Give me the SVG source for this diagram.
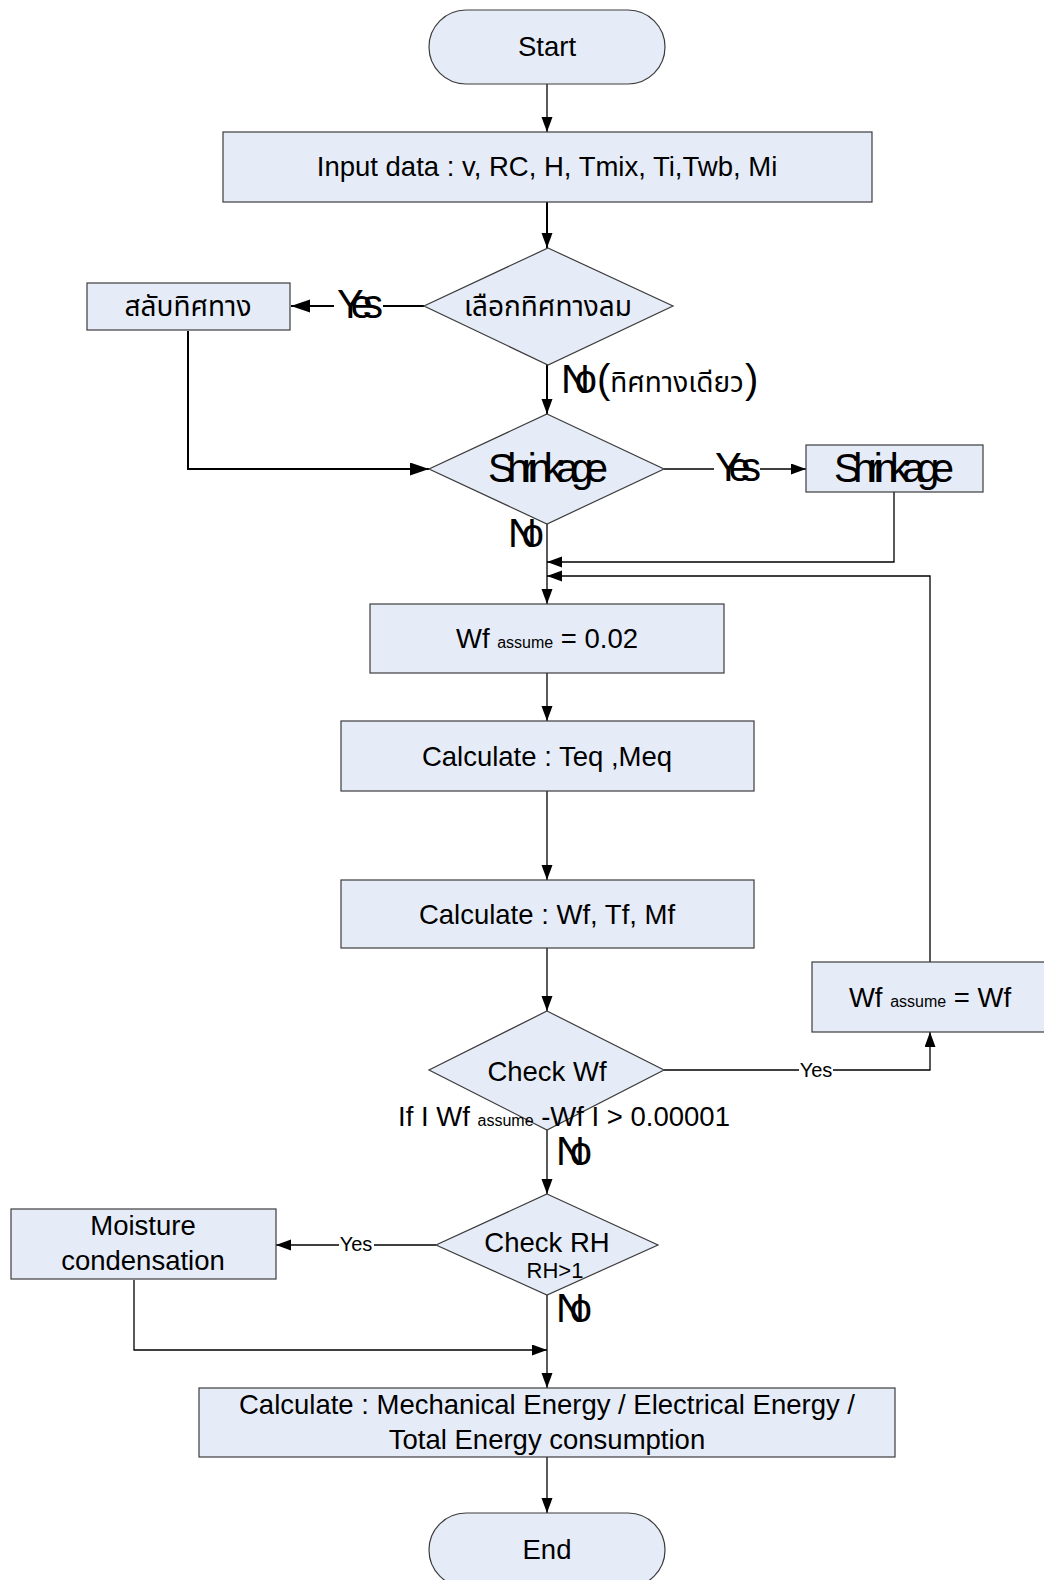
<svg xmlns="http://www.w3.org/2000/svg" width="1044" height="1580" viewBox="0 0 1044 1580">
  <style>
    .shape { fill: #e6ecf7; stroke: #3c3c3c; stroke-width: 1.2; }
    .t { font-family: "Liberation Sans", Arial, sans-serif; font-size: 27.5px; fill: #000; text-anchor: middle; }
    .th { font-family: "Noto Sans Thai", "Loma", "Garuda", "Liberation Sans", sans-serif; font-size: 28px; fill: #000; text-anchor: middle; }
    .big { font-family: "Liberation Sans", Arial, sans-serif; font-size: 40px; fill: #000; }
    .small { font-family: "Liberation Sans", Arial, sans-serif; font-size: 20px; fill: #000; }
    .sub { font-size: 16px; }
    .ln { fill: none; stroke: #000; stroke-width: 1.3; }
    .lnb { fill: none; stroke: #000; stroke-width: 2; }
  </style>
  <defs>
    <marker id="arrow" markerUnits="userSpaceOnUse" markerWidth="16" markerHeight="12" refX="15" refY="5.5" orient="auto">
      <path d="M0,0 L15,5.5 L0,11 Z" fill="#000"/>
    </marker>
    <marker id="arrowLg" markerUnits="userSpaceOnUse" markerWidth="20" markerHeight="14" refX="19" refY="6.5" orient="auto">
      <path d="M0,0 L19,6.5 L0,13 Z" fill="#000"/>
    </marker>
  </defs>

  <rect width="1044" height="1580" fill="#fff"/>

  <!-- connectors -->
  <g id="connectors">
    <path class="ln" d="M547,84 V132" marker-end="url(#arrow)"/>
    <path class="lnb" d="M547,202 V248" marker-end="url(#arrow)"/>
    <path class="lnb" d="M424,306 H383"/>
    <path class="lnb" d="M334,306 H291" marker-end="url(#arrowLg)"/>
    <path class="lnb" d="M547,365 V414" marker-end="url(#arrow)"/>
    <path class="lnb" d="M188,331 V469 H429" marker-end="url(#arrowLg)"/>
    <path class="ln" d="M664,469 H714"/>
    <path class="ln" d="M760,469 H806" marker-end="url(#arrow)"/>
    <path class="ln" d="M547,524 V604" marker-end="url(#arrow)"/>
    <path class="ln" d="M894,492 V562 H547" marker-end="url(#arrow)"/>
    <path class="ln" d="M930,962 V576 H547" marker-end="url(#arrow)"/>
    <path class="ln" d="M547,673 V721" marker-end="url(#arrow)"/>
    <path class="ln" d="M547,791 V880" marker-end="url(#arrow)"/>
    <path class="ln" d="M547,948 V1011" marker-end="url(#arrow)"/>
    <path class="ln" d="M664,1070 H799"/>
    <path class="ln" d="M833,1070 H930 V1032" marker-end="url(#arrow)"/>
    <path class="ln" d="M547,1130 V1194" marker-end="url(#arrow)"/>
    <path class="ln" d="M436,1245 H374"/>
    <path class="ln" d="M339,1245 H276" marker-end="url(#arrow)"/>
    <path class="ln" d="M134,1280 V1350 H547" marker-end="url(#arrow)"/>
    <path class="ln" d="M547,1295 V1388" marker-end="url(#arrow)"/>
    <path class="ln" d="M547,1457 V1513" marker-end="url(#arrow)"/>

    <!-- branch labels -->
    <text class="big" x="337" y="318" textLength="46" lengthAdjust="spacing">Yes</text>
    <text class="big" x="715" y="481" textLength="46" lengthAdjust="spacing">Yes</text>
    <text class="big" x="561" y="393" textLength="36" lengthAdjust="spacing">No</text>
    <text class="big" x="597" y="393">(</text>
    <text class="th" x="677" y="392">ทิศทางเดียว</text>
    <text class="big" x="745" y="393">)</text>
    <text class="big" x="508" y="547" textLength="36" lengthAdjust="spacing">No</text>
    <text class="small" x="816" y="1077" text-anchor="middle">Yes</text>
    <text class="big" x="556" y="1165" textLength="36" lengthAdjust="spacing">No</text>
    <text class="small" x="356" y="1251" text-anchor="middle">Yes</text>
    <text class="big" x="556" y="1322" textLength="36" lengthAdjust="spacing">No</text>
  </g>

  <!-- nodes -->
  <g id="start">
    <rect class="shape" x="429" y="10" width="236" height="74" rx="37" ry="37"/>
    <text class="t" x="547" y="56">Start</text>
  </g>

  <g id="input">
    <rect class="shape" x="223" y="132" width="649" height="70"/>
    <text class="t" x="547" y="176">Input data : v, RC, H, Tmix, Ti,Twb, Mi</text>
  </g>

  <g id="choose-direction">
    <polygon class="shape" points="548,248 673,306 548,365 424,306"/>
    <text class="th" x="548" y="316">เลือกทิศทางลม</text>
  </g>

  <g id="switch-direction">
    <rect class="shape" x="87" y="283" width="203" height="47"/>
    <text class="th" x="188" y="316">สลับทิศทาง</text>
  </g>

  <g id="shrinkage-check">
    <polygon class="shape" points="547,414 664,469 547,524 429,469"/>
    <text class="big" x="488" y="482" textLength="120" lengthAdjust="spacing">Shrinkage</text>
  </g>

  <g id="shrinkage">
    <rect class="shape" x="806" y="445" width="177" height="47"/>
    <text class="big" x="834" y="482" textLength="120" lengthAdjust="spacing">Shrinkage</text>
  </g>

  <g id="wf-assume-init">
    <rect class="shape" x="370" y="604" width="354" height="69"/>
    <text class="t" x="547" y="648">Wf <tspan class="sub">assume</tspan> = 0.02</text>
  </g>

  <g id="calc-teq">
    <rect class="shape" x="341" y="721" width="413" height="70"/>
    <text class="t" x="547" y="766">Calculate : Teq ,Meq</text>
  </g>

  <g id="calc-wf">
    <rect class="shape" x="341" y="880" width="413" height="68"/>
    <text class="t" x="547" y="924">Calculate : Wf, Tf, Mf</text>
  </g>

  <g id="wf-assume-update">
    <rect class="shape" x="812" y="962" width="240" height="70"/>
    <text class="t" x="930" y="1007">Wf <tspan class="sub">assume</tspan> = Wf</text>
  </g>

  <g id="check-wf">
    <polygon class="shape" points="547,1011 664,1070 547,1130 429,1070"/>
    <text class="t" x="547" y="1081">Check Wf</text>
    <text class="t" x="564" y="1126">If I Wf <tspan class="sub">assume</tspan> -Wf I &gt; 0.00001</text>
  </g>

  <g id="check-rh">
    <polygon class="shape" points="547,1194 658,1245 547,1295 436,1245"/>
    <text class="t" x="547" y="1252">Check RH</text>
    <text class="t" x="555" y="1278" style="font-size:22px">RH&gt;1</text>
  </g>

  <g id="moisture">
    <rect class="shape" x="11" y="1209" width="265" height="70"/>
    <text class="t" x="143" y="1235">Moisture</text>
    <text class="t" x="143" y="1270">condensation</text>
  </g>

  <g id="calc-energy">
    <rect class="shape" x="199" y="1388" width="696" height="69"/>
    <text class="t" x="547" y="1414">Calculate : Mechanical Energy / Electrical Energy /</text>
    <text class="t" x="547" y="1449">Total Energy consumption</text>
  </g>

  <g id="end">
    <rect class="shape" x="429" y="1513" width="236" height="74" rx="37" ry="37"/>
    <text class="t" x="547" y="1559">End</text>
  </g>
</svg>
